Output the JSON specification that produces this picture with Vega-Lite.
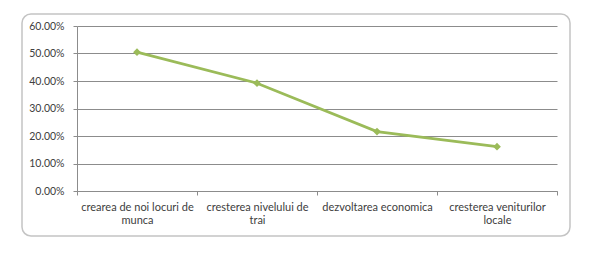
{
  "$schema": "https://vega.github.io/schema/vega-lite/v6.json",
  "autosize": {"type": "none"},
  "width": 480,
  "height": 165,
  "padding": {"left": 77, "top": 26, "right": 43, "bottom": 70},
  "background": "white",
  "config": {
    "view": {"stroke": null},
    "font": "Lato",
    "axis": {
      "labelFont": "Lato",
      "labelFontSize": 10.5,
      "labelColor": "#404040",
      "domainColor": "#8c8c8c",
      "tickColor": "#8c8c8c",
      "gridColor": "#8c8c8c",
      "title": null
    }
  },
  "layer": [
    {
      "data": {"values": [{}]},
      "mark": {
        "type": "rect",
        "fill": null,
        "stroke": "#c4c4c4",
        "strokeWidth": 1.5,
        "cornerRadius": 9,
        "clip": false
      },
      "encoding": {
        "x": {"value": -55},
        "y": {"value": -12},
        "x2": {"value": {"expr": "width + 13"}},
        "y2": {"value": {"expr": "height + 45"}}
      }
    },
    {
      "data": {
        "values": [
          {"categorie": "crearea de noi locuri de munca", "procent": 0.505},
          {"categorie": "cresterea nivelului de trai", "procent": 0.392},
          {"categorie": "dezvoltarea economica", "procent": 0.216},
          {"categorie": "cresterea veniturilor locale", "procent": 0.161}
        ]
      },
      "mark": {
        "type": "line",
        "color": "#9bbb59",
        "strokeWidth": 2.75,
        "point": {"shape": "diamond", "size": 60, "filled": true, "color": "#9bbb59"}
      },
      "encoding": {
        "x": {
          "field": "categorie",
          "type": "nominal",
          "sort": null,
          "scale": {"type": "band", "paddingInner": 0, "paddingOuter": 0},
          "axis": {
            "labelAngle": 0,
            "labelFontSize": 11,
            "tickBand": "extent",
            "tickSize": 4,
            "labelPadding": 6,
            "labelLineHeight": 13.5,
            "grid": false,
            "labelExpr": "datum.value == 'crearea de noi locuri de munca' ? ['crearea de noi locuri de', 'munca'] : datum.value == 'cresterea nivelului de trai' ? ['cresterea nivelului de', 'trai'] : datum.value == 'cresterea veniturilor locale' ? ['cresterea veniturilor', 'locale'] : datum.value"
          }
        },
        "y": {
          "field": "procent",
          "type": "quantitative",
          "scale": {"domain": [0, 0.6], "nice": false},
          "axis": {
            "values": [0, 0.1, 0.2, 0.3, 0.4, 0.5, 0.6],
            "format": ".2%",
            "tickSize": 4,
            "labelPadding": 9,
            "grid": true
          }
        }
      }
    }
  ]
}
